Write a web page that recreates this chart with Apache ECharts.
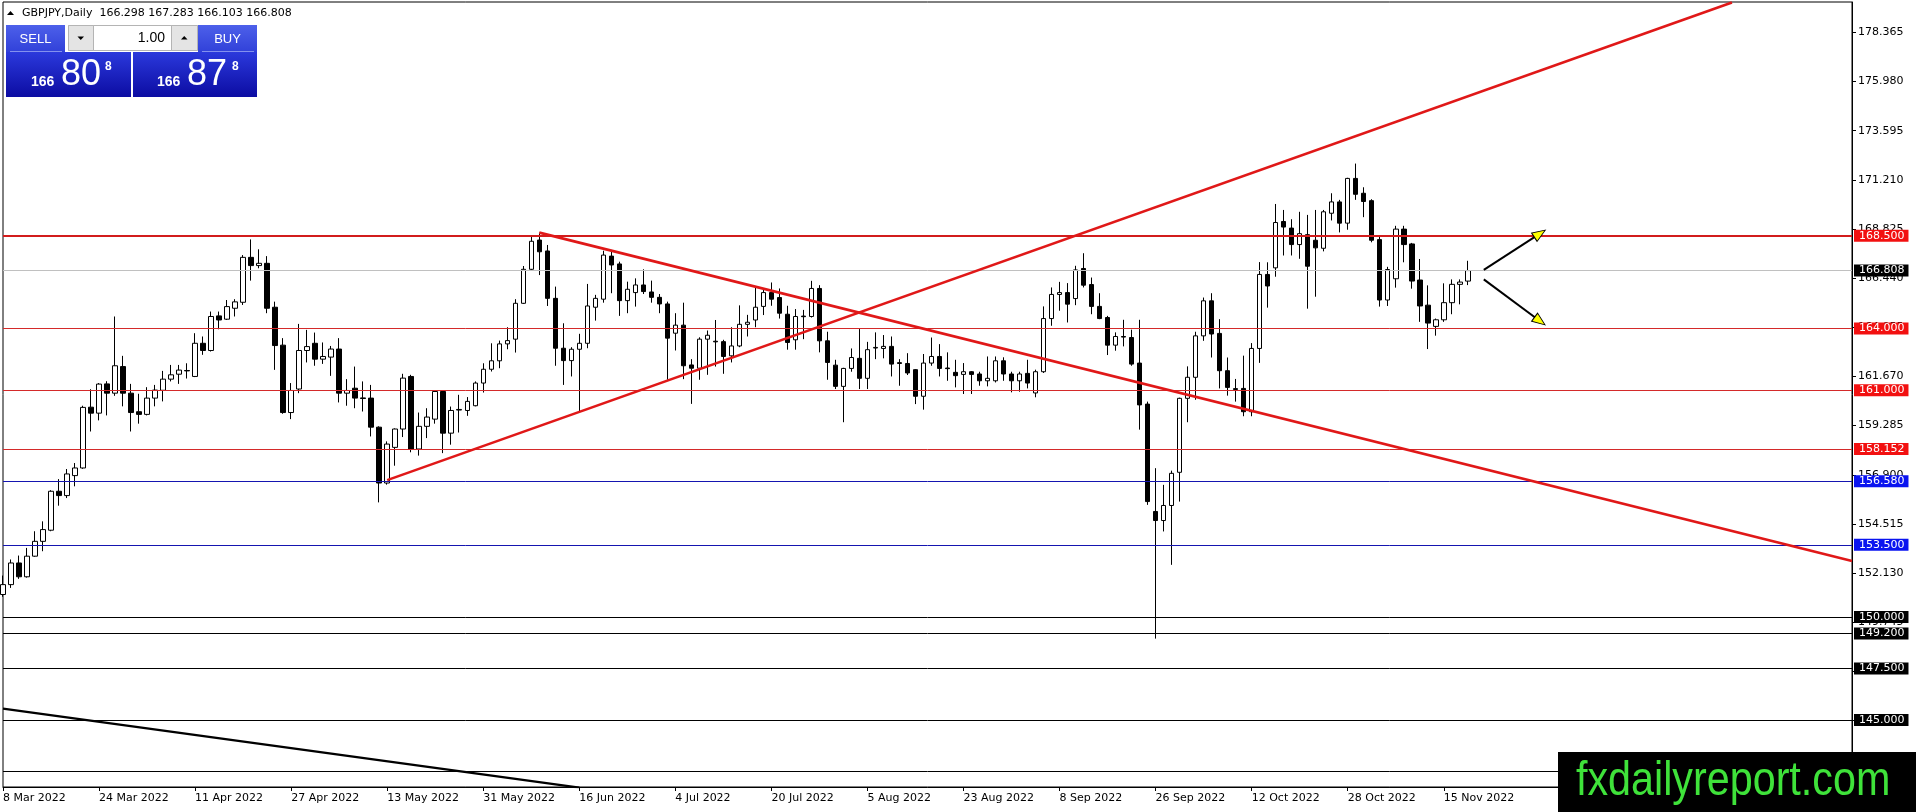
<!DOCTYPE html>
<html>
<head>
<meta charset="utf-8">
<title>GBPJPY Daily</title>
<script src="https://cdn.jsdelivr.net/npm/echarts@6/dist/echarts.min.js"></script>
<style>
html, body { margin: 0; padding: 0; background: #fff; }
#main { width: 1916px; height: 812px; }
</style>
</head>
<body>
<div id="main"></div>
<script>
// daily bars, first bar = 8 Mar 2022, weekdays only
var firstDay = '2022-03-08';
var totalSlots = 232; // bars + empty space on the right (chart shift)

var opens = [151.09,151.57,152.62,151.95,152.95,153.67,154.21,156.10,155.89,156.86,
157.23,160.18,159.89,161.31,160.86,162.15,160.86,159.96,159.83,160.62,
161.00,161.54,161.78,161.96,161.67,163.28,162.93,164.61,164.45,164.98,
165.27,167.45,167.05,167.16,165.03,163.19,159.92,161.06,162.93,163.28,
162.51,162.61,163.00,160.86,161.10,160.63,160.62,159.21,156.50,158.23,
159.12,161.67,158.15,159.25,159.60,160.94,158.92,160.04,160.02,160.25,
161.35,162.02,162.43,163.25,163.48,165.22,166.87,168.29,167.76,165.46,
163.04,162.44,162.99,163.28,165.03,165.42,167.51,167.13,165.35,165.74,
166.11,165.77,165.51,165.19,163.77,164.16,162.23,162.07,163.48,163.38,
163.36,162.67,163.15,164.20,164.41,165.07,165.74,165.50,164.69,163.45,
164.60,164.58,165.94,163.40,162.22,161.19,162.06,162.55,161.58,163.05,
163.03,163.13,162.34,162.30,162.00,160.71,162.32,162.64,162.08,161.87,
161.77,161.90,161.79,161.46,161.46,162.43,161.79,161.46,161.82,160.87,
161.90,164.48,165.65,165.74,165.45,166.91,166.13,165.07,164.53,163.19,
163.61,163.56,162.32,160.33,155.12,154.68,155.41,157.02,160.61,161.63,
163.64,165.34,163.76,161.95,161.08,161.09,159.96,163.03,166.62,166.94,
169.19,168.87,168.07,168.55,168.28,167.89,169.59,170.14,169.11,171.28,
170.56,170.20,168.31,165.38,166.41,168.82,168.10,166.35,165.13,164.10,
164.42,165.25,166.14,166.298];

var highs = [152.01,152.79,152.98,153.35,154.16,154.64,156.15,156.69,157.18,157.47,
160.25,161.05,161.35,161.44,164.58,162.67,161.31,160.83,161.15,161.26,
161.94,162.23,162.23,162.31,163.77,163.61,164.82,164.82,165.38,165.42,
167.56,168.32,167.84,167.51,165.30,163.53,161.35,164.22,163.93,163.80,
163.32,163.15,163.53,161.54,162.15,161.43,161.26,159.25,158.52,159.15,
161.80,161.75,159.92,160.13,160.97,160.97,160.21,160.78,160.67,161.43,
162.31,163.28,163.41,164.06,165.42,167.03,168.45,168.65,168.05,166.03,
164.25,163.09,163.74,166.16,165.63,167.77,167.81,167.24,166.27,166.43,
166.87,166.32,165.67,165.30,164.74,165.25,162.51,163.57,163.90,164.41,
163.45,164.06,165.12,164.66,166.00,165.94,166.23,165.94,165.10,164.94,
164.90,166.31,166.10,163.84,162.48,162.09,163.03,163.97,163.35,163.81,
163.68,163.61,162.51,162.80,162.03,162.76,163.56,163.24,162.84,162.48,
162.32,161.93,161.90,162.64,162.64,162.60,161.90,161.90,162.48,162.00,
165.07,165.99,166.26,166.20,167.04,167.65,166.47,165.71,164.61,163.81,
164.42,163.94,164.42,160.45,157.22,156.41,157.10,160.64,162.16,163.84,
165.50,165.71,164.45,162.59,161.55,162.68,163.29,167.22,167.21,170.04,
169.75,169.30,169.66,169.51,169.75,169.75,170.56,170.24,171.31,172.00,
170.85,170.27,168.50,166.99,168.98,168.98,168.15,167.37,166.09,164.48,
166.19,166.38,166.38,167.283];

var lows = [150.98,151.41,151.85,151.91,152.92,153.19,154.16,155.40,155.77,156.34,
157.19,159.00,159.54,159.78,160.73,160.22,159.00,159.38,159.78,160.22,
160.46,161.43,161.31,161.57,161.64,162.72,162.88,163.96,164.41,164.58,
165.14,166.32,166.92,164.74,161.99,159.86,159.60,160.86,162.35,162.19,
162.28,161.70,160.41,160.25,160.13,159.97,158.76,155.56,156.42,157.34,
158.73,157.99,157.83,158.68,159.38,157.95,158.36,158.95,159.76,160.22,
160.89,161.91,162.07,162.99,162.83,165.19,166.80,166.59,165.09,162.19,
161.26,161.67,159.97,163.04,164.38,165.25,165.71,164.61,164.74,165.06,
165.67,165.25,164.74,161.51,162.93,161.54,160.34,161.51,161.75,162.15,
161.80,162.35,163.09,163.61,164.06,164.65,165.10,164.48,162.97,162.97,
163.48,164.53,162.84,161.51,161.06,159.45,161.90,161.06,161.06,162.51,
162.55,161.67,161.22,161.74,160.33,160.06,162.19,161.67,161.46,161.14,
160.82,160.82,161.22,161.19,161.38,161.46,160.90,160.93,161.09,160.66,
161.84,164.13,164.86,164.29,165.13,165.99,164.69,164.45,162.71,162.92,
163.13,162.19,159.09,155.44,148.95,154.15,152.53,155.60,159.45,160.54,
163.40,162.59,161.09,160.74,160.45,159.74,159.74,162.33,165.01,166.51,
167.54,167.54,167.38,164.96,165.54,167.74,169.24,168.66,168.79,170.24,
169.40,168.18,165.06,165.09,165.98,167.21,165.93,164.32,163.00,163.65,
164.32,164.69,165.17,166.103];

var closes = [151.57,152.62,151.95,152.95,153.67,154.24,156.10,155.89,156.94,157.23,
160.17,159.89,161.30,160.86,162.19,160.86,159.92,159.83,160.62,161.01,
161.54,161.75,161.98,161.94,163.28,162.93,164.58,164.41,165.06,165.29,
167.45,167.05,167.16,164.98,163.17,159.92,160.99,162.93,163.12,162.51,
162.64,163.00,160.86,160.99,160.62,160.60,159.21,156.50,158.39,159.12,
161.59,158.15,159.25,159.70,160.94,158.92,160.02,160.07,160.46,161.35,
162.02,162.43,163.25,163.41,165.22,166.87,168.23,167.72,165.46,163.04,
162.44,162.99,163.28,165.09,165.46,167.56,167.08,165.35,165.90,166.11,
165.79,165.51,165.19,163.53,164.16,162.19,162.07,163.48,163.67,163.35,
162.64,163.15,164.20,164.30,165.03,165.74,165.42,164.74,163.32,164.58,
164.57,165.94,163.40,162.35,161.19,162.06,162.59,161.58,162.97,163.08,
163.13,162.27,162.30,161.84,160.71,162.32,162.64,162.06,162.05,161.71,
161.90,161.77,161.46,161.58,162.43,161.79,161.46,161.79,161.35,161.90,
164.48,165.65,165.74,165.18,166.84,166.10,165.07,164.48,163.19,163.61,
163.58,162.27,160.29,155.60,154.68,155.41,156.97,160.61,161.63,163.64,
165.34,163.73,161.95,161.14,161.04,159.96,163.03,166.62,166.06,169.14,
168.92,168.07,168.60,167.02,167.91,169.66,170.14,169.11,171.28,170.51,
170.16,168.28,165.38,166.86,168.82,168.07,166.30,165.09,164.26,164.42,
165.25,166.14,166.25,166.808];

// price scale ticks on the right
var priceTicks = [178.365,175.980,173.595,171.210,168.825,166.440,164.055,161.670,
159.285,156.900,154.515,152.130,149.745,147.360,144.975,142.590];
var priceMin = 141.75, priceMax = 179.84;

// horizontal levels
var redLevels = [168.5, 164.0, 161.0, 158.152];
var blueLevels = [156.58, 153.5];
var blackLevels = [150.0, 149.2, 147.5, 145.0, 142.5];
var lastPrice = 166.808;

// trend lines as [bar index, price]
var risingLine = [[48, 156.64], [216, 179.82]];
var fallingLine = [[67, 168.65], [231, 152.72]];
var lowerLine = [[0, 145.55], [72, 141.72]];
var arrowUp = [[185, 166.84], [192, 168.60]];
var arrowDown = [[185, 166.38], [192, 164.36]];

var MONTHS = ['Jan','Feb','Mar','Apr','May','Jun','Jul','Aug','Sep','Oct','Nov','Dec'];
var categories = [];
var d = new Date(firstDay + 'T00:00:00Z');
while (categories.length < totalSlots) {
    var wd = d.getUTCDay();
    if (wd !== 0 && wd !== 6) {
        categories.push(d.getUTCDate() + ' ' + MONTHS[d.getUTCMonth()] + ' ' + d.getUTCFullYear());
    }
    d.setUTCDate(d.getUTCDate() + 1);
}

var candles = opens.map(function (o, i) {
    return [o, closes[i], lows[i], highs[i]];
});

var AXIS_FONT = "'DejaVu Sans', sans-serif";
var UI_FONT = "'Liberation Sans', Arial, sans-serif";

function levelMark(price, lineColor, boxColor, width) {
    return {
        yAxis: price,
        lineStyle: { color: lineColor, width: width, type: 'solid' },
        label: {
            show: true,
            position: 'end',
            distance: 2,
            formatter: price.toFixed(3),
            color: '#fff',
            backgroundColor: boxColor,
            padding: [1, 4, 0, 5],
            fontFamily: AXIS_FONT,
            fontSize: 11
        }
    };
}

var marks = [levelMark(lastPrice, '#c0c0c0', '#000', 1)];
redLevels.forEach(function (p) {
    marks.push(levelMark(p, p === 168.5 ? '#d21c1c' : '#d42a2a', '#f21010', p === 168.5 ? 2 : 1));
});
blueLevels.forEach(function (p) { marks.push(levelMark(p, '#1515b0', '#0a14f0', 1)); });
blackLevels.forEach(function (p) { marks.push(levelMark(p, '#000', '#000', 1)); });

function showLabel(idx) {
    return idx % 12 === 0 && idx < opens.length;
}

function lineSeries(id, pts, color, width) {
    return {
        id: id,
        type: 'line',
        data: pts,
        showSymbol: false,
        symbol: 'none',
        silent: true,
        clip: true,
        lineStyle: { color: color, width: width },
        z: 5
    };
}

var chart = echarts.init(document.getElementById('main'), null, { renderer: 'canvas' });

var blueTop = { type: 'linear', x: 0, y: 0, x2: 0, y2: 1,
    colorStops: [{ offset: 0, color: '#4d60ea' }, { offset: 1, color: '#3141d9' }] };
var blueBig = { type: 'linear', x: 0, y: 0, x2: 0, y2: 1,
    colorStops: [{ offset: 0, color: '#2b39dc' }, { offset: 1, color: '#0c0ca2' }] };

var option = {
    animation: false,
    backgroundColor: '#fff',
    grid: {
        left: 3, right: 64, top: 2, bottom: 25,
        show: true, borderColor: '#000', borderWidth: 1,
        containLabel: false, outerBoundsMode: 'none'
    },
    xAxis: {
        type: 'category',
        data: categories,
        boundaryGap: false,
        axisLine: { show: true, lineStyle: { color: '#000', width: 1 } },
        axisTick: { show: true, interval: showLabel, length: 4, lineStyle: { color: '#000' } },
        axisLabel: {
            interval: showLabel, align: 'left', margin: 6,
            color: '#000', fontFamily: AXIS_FONT, fontSize: 11
        },
        splitLine: { show: false }
    },
    yAxis: {
        type: 'value',
        position: 'right',
        min: priceMin,
        max: priceMax,
        scale: true,
        splitLine: { show: false },
        axisLine: { show: true, lineStyle: { color: '#000', width: 1 } },
        axisTick: { show: true, inside: false, length: 4, customValues: priceTicks, lineStyle: { color: '#000' } },
        axisLabel: {
            customValues: priceTicks,
            margin: 6,
            color: '#000', fontFamily: AXIS_FONT, fontSize: 11,
            formatter: function (v) { return v.toFixed(3); }
        }
    },
    series: [
        {
            id: 'bars',
            type: 'candlestick',
            data: candles,
            barWidth: 5,
            clip: true,
            itemStyle: {
                color: '#fff', color0: '#000',
                borderColor: '#000', borderColor0: '#000',
                borderWidth: 1
            },
            markLine: {
                silent: true,
                symbol: ['none', 'none'],
                animation: false,
                data: marks
            }
        },
        lineSeries('rising', risingLine, '#e01818', 2.6),
        lineSeries('falling', fallingLine, '#e01818', 2.6),
        lineSeries('lower', lowerLine, '#000', 2.4),
        lineSeries('arrowUp', arrowUp, '#000', 2),
        lineSeries('arrowDown', arrowDown, '#000', 2),
        {
            id: 'heads',
            type: 'scatter',
            symbol: 'triangle',
            symbolSize: [10, 13],
            silent: true,
            z: 6,
            itemStyle: { color: '#ffff00', borderColor: '#000', borderWidth: 1, opacity: 1 },
            data: []
        }
    ],
    graphic: [
        { type: 'polygon', z: 100, shape: { points: [[7, 15], [14, 15], [10.5, 11]] }, style: { fill: '#000' } },
        { type: 'text', z: 100, x: 22, y: 13,
          style: { text: 'GBPJPY,Daily  166.298 167.283 166.103 166.808', font: '11px ' + AXIS_FONT, fill: '#000', verticalAlign: 'middle' } },

        { type: 'rect', z: 100, shape: { x: 6, y: 25, width: 59, height: 27 }, style: { fill: blueTop } },
        { type: 'line', z: 101, shape: { x1: 10, y1: 51.5, x2: 62, y2: 51.5 }, style: { stroke: '#8390ee', lineWidth: 1 } },
        { type: 'rect', z: 100, shape: { x: 6, y: 52, width: 125, height: 45 }, style: { fill: blueBig } },
        { type: 'rect', z: 100, shape: { x: 198, y: 25, width: 59, height: 27 }, style: { fill: blueTop } },
        { type: 'line', z: 101, shape: { x1: 202, y1: 51.5, x2: 254, y2: 51.5 }, style: { stroke: '#8390ee', lineWidth: 1 } },
        { type: 'rect', z: 100, shape: { x: 133, y: 52, width: 124, height: 45 }, style: { fill: blueBig } },

        { type: 'rect', z: 100, shape: { x: 68.5, y: 25.5, width: 129, height: 25 }, style: { fill: '#fff', stroke: '#b4b4b4', lineWidth: 1 } },
        { type: 'rect', z: 101, shape: { x: 68.5, y: 25.5, width: 25, height: 25 }, style: { fill: '#e4e4e4', stroke: '#b4b4b4', lineWidth: 1 } },
        { type: 'rect', z: 101, shape: { x: 171.5, y: 25.5, width: 26, height: 25 }, style: { fill: '#e4e4e4', stroke: '#b4b4b4', lineWidth: 1 } },
        { type: 'polygon', z: 102, shape: { points: [[77.5, 36.5], [84, 36.5], [80.75, 40]] }, style: { fill: '#000' } },
        { type: 'polygon', z: 102, shape: { points: [[181, 39.5], [187.5, 39.5], [184.25, 36]] }, style: { fill: '#000' } },
        { type: 'text', z: 102, x: 165, y: 38.5,
          style: { text: '1.00', font: '14px ' + UI_FONT, fill: '#000', align: 'right', verticalAlign: 'middle' } },

        { type: 'text', z: 102, x: 35.5, y: 39.5,
          style: { text: 'SELL', font: '13px ' + UI_FONT, fill: '#fff', align: 'center', verticalAlign: 'middle' } },
        { type: 'text', z: 102, x: 227.5, y: 39.5,
          style: { text: 'BUY', font: '13px ' + UI_FONT, fill: '#fff', align: 'center', verticalAlign: 'middle' } },

        { type: 'text', z: 102, x: 31, y: 82.5,
          style: { text: '166', font: 'bold 14px ' + UI_FONT, fill: '#fff', verticalAlign: 'middle' } },
        { type: 'text', z: 102, x: 61, y: 75,
          style: { text: '80', font: '36px ' + UI_FONT, fill: '#fff', verticalAlign: 'middle' } },
        { type: 'text', z: 102, x: 105, y: 66.5,
          style: { text: '8', font: 'bold 12px ' + UI_FONT, fill: '#fff', verticalAlign: 'middle' } },
        { type: 'text', z: 102, x: 157, y: 82.5,
          style: { text: '166', font: 'bold 14px ' + UI_FONT, fill: '#fff', verticalAlign: 'middle' } },
        { type: 'text', z: 102, x: 187, y: 75,
          style: { text: '87', font: '36px ' + UI_FONT, fill: '#fff', verticalAlign: 'middle' } },
        { type: 'text', z: 102, x: 232, y: 66.5,
          style: { text: '8', font: 'bold 12px ' + UI_FONT, fill: '#fff', verticalAlign: 'middle' } },

        { type: 'rect', z: 100, shape: { x: 1558, y: 752, width: 358, height: 60 }, style: { fill: '#000' } },
        { type: 'text', z: 101, x: 1576, y: 782, scaleX: 0.86,
          style: { text: 'fxdailyreport.com', font: '48px ' + UI_FONT, fill: '#3fe23a', verticalAlign: 'middle' } }
    ]
};

chart.setOption(option);

// arrow heads follow the direction of the arrow lines
function head(line) {
    var a = chart.convertToPixel({ xAxisIndex: 0, yAxisIndex: 0 }, line[0]);
    var b = chart.convertToPixel({ xAxisIndex: 0, yAxisIndex: 0 }, line[1]);
    var ang = Math.atan2(a[1] - b[1], b[0] - a[0]) * 180 / Math.PI;
    return { value: line[1], symbolRotate: ang - 90 };
}
chart.setOption({ series: [{ id: 'heads', data: [head(arrowUp), head(arrowDown)] }] });
</script>
</body>
</html>
